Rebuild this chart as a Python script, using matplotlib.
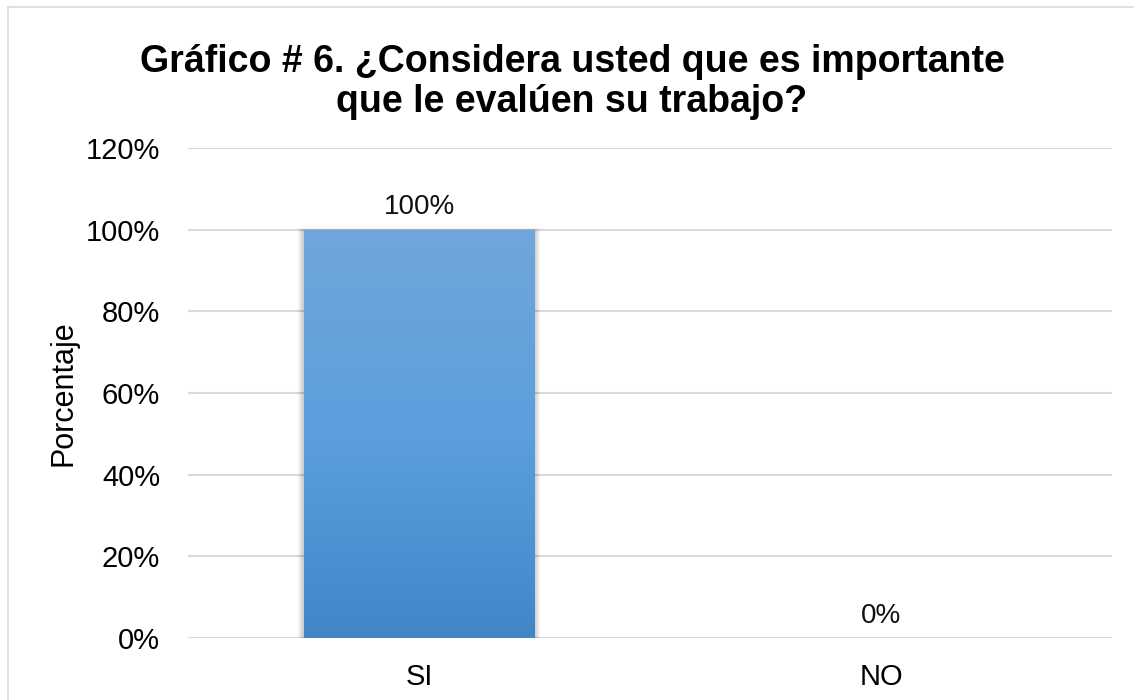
import matplotlib.pyplot as plt
import numpy as np
from matplotlib.colors import LinearSegmentedColormap
from matplotlib.patches import Rectangle

categories = ["SI", "NO"]
values = [100, 0]
yticks = [0, 20, 40, 60, 80, 100, 120]
title = "Gráfico # 6. ¿Considera usted que es importante\nque le evalúen su trabajo?"

plt.rcParams['font.family'] = ['Liberation Sans', 'DejaVu Sans']

fig = plt.figure(figsize=(11.34, 7.0), dpi=100)
W, H = 1134, 700
ax = fig.add_axes([188 / W, 1 - 638 / H, (1112 - 188) / W, (638 - 148) / H])

# outer chart border
fig.patches.append(Rectangle((8 / W, -0.01), 1.2, 1 - 7 / H + 0.01, transform=fig.transFigure,
                             fill=False, edgecolor='#D9D9D9', linewidth=1.2))

ax.set_xlim(-0.5, len(categories) - 0.5)
ax.set_ylim(0, 120)
ax.set_yticks(yticks)
ax.set_yticklabels([f"{t}%" for t in yticks], fontsize=21)
ax.set_xticks(range(len(categories)))
ax.set_xticklabels(categories, fontsize=21)
ax.tick_params(axis='y', length=0, pad=20)
ax.tick_params(axis='x', length=0, pad=18)
for s in ax.spines.values():
    s.set_visible(False)
ax.grid(axis='y', color='#D9D9D9', linewidth=1.5)
ax.set_axisbelow(True)
ax.axhline(0, color='#D9D9D9', linewidth=1.5, zorder=1)

cmap = LinearSegmentedColormap.from_list('bar', ['#4187C8', '#5B9FDD', '#70A6DA'])
grad = np.linspace(0, 1, 256).reshape(-1, 1)
bw = 0.5
bars = ax.bar(range(len(categories)), values, width=bw, color='none', zorder=2)
for b, v in zip(bars, values):
    x0 = b.get_x()
    if v > 0:
        # soft shadow around the bar
        for k in np.linspace(0.012, 0.002, 6):
            ax.add_patch(Rectangle((x0 - k, 0), bw + 2 * k, v + k * 25, color='black',
                                   alpha=0.035, linewidth=0, zorder=2))
        im = ax.imshow(grad, extent=[x0, x0 + bw, 0, v], origin='lower', aspect='auto',
                       cmap=cmap, zorder=3)
        im.set_clip_path(b)
    ax.text(b.get_x() + bw / 2, v + 2.3, f"{v}%", ha='center', va='bottom', fontsize=20,
            color='#111111', zorder=4)

ax.set_xlim(-0.5, len(categories) - 0.5)
ax.set_ylim(0, 120)
ax.set_ylabel("Porcentaje", fontsize=22, labelpad=5)

fig.text(572 / W, 1 - 82 / H, title, ha='center', va='center', fontsize=27,
         fontweight='bold', linespacing=1.15)

fig.savefig("out.png", dpi=100, facecolor='white')
